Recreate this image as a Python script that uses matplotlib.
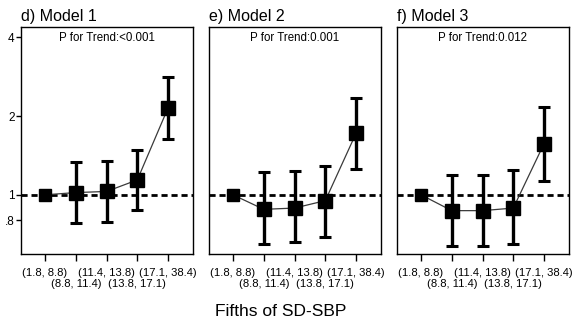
import numpy as np
import matplotlib.pyplot as plt
from matplotlib.ticker import FixedLocator, NullLocator

plt.rcParams['font.family'] = ['Liberation Sans', 'DejaVu Sans']

# fifths of SD-SBP
groups = ["(1.8, 8.8)", "(8.8, 11.4)", "(11.4, 13.8)", "(13.8, 17.1)", "(17.1, 38.4)"]
titles = ["d) Model 1", "e) Model 2", "f) Model 3"]
p_trend = ["P for Trend:<0.001", "P for Trend:0.001", "P for Trend:0.012"]

# hazard ratios with 95% CI
hr_m1 = [1.00, 1.02, 1.03, 1.14, 2.15]
lo_m1 = [1.00, 0.78, 0.79, 0.875, 1.64]
hi_m1 = [1.00, 1.33, 1.35, 1.49, 2.83]

hr_m2 = [1.00, 0.88, 0.89, 0.95, 1.72]
lo_m2 = [1.00, 0.65, 0.66, 0.69, 1.25]
hi_m2 = [1.00, 1.22, 1.23, 1.29, 2.35]

hr_m3 = [1.00, 0.87, 0.87, 0.89, 1.57]
lo_m3 = [1.00, 0.636, 0.636, 0.65, 1.13]
hi_m3 = [1.00, 1.19, 1.19, 1.24, 2.17]

yticks = [0.8, 1, 2, 4]
ytick_labels = [".8", "1", "2", "4"]

W, H = 577, 322
fig = plt.figure(figsize=(W / 100, H / 100), dpi=100)

panels = [(hr_m1, lo_m1, hi_m1), (hr_m2, lo_m2, hi_m2), (hr_m3, lo_m3, hi_m3)]
lefts = [21, 209, 397]
top, bottom, width = 27, 254, 172

x = np.arange(1, len(groups) + 1)

for k, (hr, lo, hi) in enumerate(panels):
    ax = fig.add_axes([lefts[k] / W, (H - bottom) / H, width / W, (bottom - top) / H])
    hr = np.array(hr)
    yerr = np.vstack([hr - np.array(lo), np.array(hi) - hr])

    ax.axhline(1, color="black", lw=2, ls=(0, (2.2, 1.4)), zorder=1)
    ax.plot(x, hr, color="#3a3a3a", lw=0.9, zorder=2)
    ax.errorbar(x[1:], hr[1:], yerr=yerr[:, 1:], fmt="none", ecolor="black",
                elinewidth=2.4, capsize=4.1, capthick=2.2, zorder=3)
    ax.plot(x[:1], hr[:1], "s", color="black", ms=8.5, zorder=4)
    ax.plot(x[1:], hr[1:], "s", color="black", ms=10.5, zorder=4)

    ax.set_yscale("log")
    ax.set_ylim(0.594, 4.38)
    ax.set_xlim(0.22, 5.81)
    ax.yaxis.set_minor_locator(NullLocator())
    ax.set_xticks(x)
    ax.set_xticklabels(groups, fontsize=8.1)
    ax.tick_params(axis="x", length=5, width=1, pad=5)
    # stagger the tick labels on two rows, like the original
    for i, tick in enumerate(ax.xaxis.get_major_ticks()):
        if i % 2 == 1:
            tick.set_pad(13.2)

    if k == 0:
        ax.yaxis.set_major_locator(FixedLocator(yticks))
        ax.set_yticklabels(ytick_labels, fontsize=8.5)
        ax.tick_params(axis="y", length=3.5, width=1, pad=1)
    else:
        ax.yaxis.set_major_locator(NullLocator())

    for s in ax.spines.values():
        s.set_linewidth(1.0)

    ax.set_title(titles[k], loc="left", fontsize=11.5, pad=4.5)
    ax.text(0.5, 0.978, p_trend[k], transform=ax.transAxes, ha="center",
            va="top", fontsize=8.3)

fig.text(281 / W, 1 - 311 / H, "Fifths of SD-SBP", ha="center", va="center",
         fontsize=12.5)

fig.savefig("out.png", dpi=100)
